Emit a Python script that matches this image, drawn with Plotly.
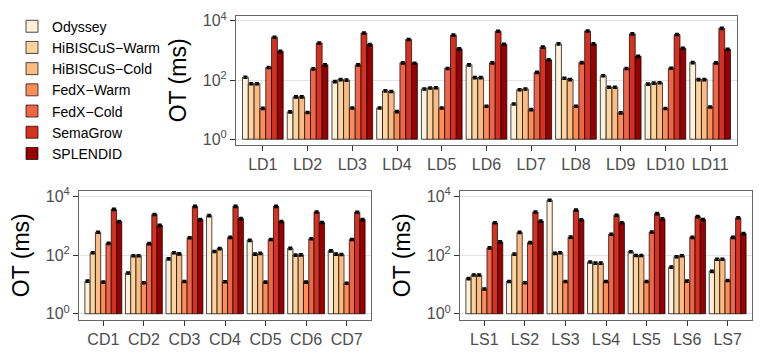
import plotly.graph_objects as go

# systems and their colours (OrRd, 7 classes)
systems = ["Odyssey", "HiBISCuS−Warm", "HiBISCuS−Cold", "FedX−Warm", "FedX−Cold", "SemaGrow", "SPLENDID"]
colors = ["#fef0d9", "#fdd49e", "#fdbb84", "#fc8d59", "#ef6548", "#d7301f", "#990000"]

# LargeRDFBench queries
ld_queries = ["LD1", "LD2", "LD3", "LD4", "LD5", "LD6", "LD7", "LD8", "LD9", "LD10", "LD11"]
ld_odyssey = [124, 8.4, 89, 11.4, 50, 325, 15.5, 1660, 140, 73, 390]
ld_hib_warm = [75, 27, 104, 43, 54, 121, 47, 115, 57, 79, 104]
ld_hib_cold = [75, 27, 100, 41, 55, 121, 50, 104, 57, 81, 104]
ld_fedx_warm = [11, 8, 11.4, 8.6, 11.4, 13, 10, 13, 7.8, 10.9, 12.3]
ld_fedx_cold = [265, 240, 325, 380, 246, 380, 182, 390, 246, 250, 380]
ld_semagrow = [2800, 1790, 3900, 2350, 3300, 4450, 1290, 4550, 3650, 3450, 5600]
ld_splendid = [930, 325, 1580, 370, 1130, 1620, 480, 1660, 630, 1190, 1100]

cd_queries = ["CD1", "CD2", "CD3", "CD4", "CD5", "CD6", "CD7"]
cd_odyssey = [12.9, 24.5, 74, 2200, 316, 170, 139]
cd_hib_warm = [120, 95, 120, 132, 108, 100, 108]
cd_hib_cold = [600, 95, 110, 166, 114, 102, 105]
cd_fedx_warm = [12, 11.4, 12.6, 12.3, 12, 12, 11]
cd_fedx_cold = [250, 245, 390, 400, 340, 360, 340]
cd_semagrow = [3600, 2400, 4550, 4550, 4550, 2930, 2870]
cd_splendid = [1390, 1030, 1620, 1750, 1390, 1290, 1620]

ls_queries = ["LS1", "LS2", "LS3", "LS4", "LS5", "LS6", "LS7"]
ls_odyssey = [15.8, 12.6, 7350, 58, 130, 39, 28]
ls_hib_warm = [21, 108, 114, 53, 97, 88, 72]
ls_hib_cold = [21, 590, 120, 53, 97, 95, 72]
ls_fedx_warm = [7, 11.4, 12.6, 12.6, 12.6, 12.9, 13.6]
ls_fedx_cold = [175, 265, 410, 510, 610, 400, 400]
ls_semagrow = [1260, 2930, 3400, 2280, 2570, 2040, 1860]
ls_splendid = [280, 1440, 1590, 1260, 1700, 1620, 540]

panels = [
    (ld_queries, [ld_odyssey, ld_hib_warm, ld_hib_cold, ld_fedx_warm, ld_fedx_cold, ld_semagrow, ld_splendid], "x", "y"),
    (cd_queries, [cd_odyssey, cd_hib_warm, cd_hib_cold, cd_fedx_warm, cd_fedx_cold, cd_semagrow, cd_splendid], "x2", "y2"),
    (ls_queries, [ls_odyssey, ls_hib_warm, ls_hib_cold, ls_fedx_warm, ls_fedx_cold, ls_semagrow, ls_splendid], "x3", "y3"),
]

fig = go.Figure()

for p, (queries, series, xa, ya) in enumerate(panels):
    for name, color, vals in zip(systems, colors, series):
        # bars start at 10^0 like in ggplot, so base = 1
        fig.add_trace(go.Bar(
            x=queries, y=[v - 1 for v in vals], base=1,
            name=name, legendgroup=name, showlegend=(p == 0),
            marker=dict(color=color, line=dict(color="black", width=0.7)),
            error_y=dict(type="percent", value=8, color="black", thickness=1.6, width=2),
            xaxis=xa, yaxis=ya,
        ))

FONT = "Liberation Sans, Arial, sans-serif"
tick_font = dict(family=FONT, size=16, color="#4d4d4d")
title_font = dict(family=FONT, size=23, color="black")

xcommon = dict(type="category", showline=True, mirror=True, linecolor="#666666", linewidth=1,
               ticks="outside", ticklen=5, tickcolor="#333333", tickfont=tick_font,
               showgrid=False)
ycommon = dict(type="log", showline=True, mirror=True, linecolor="#666666", linewidth=1,
               ticks="outside", ticklen=5, tickcolor="#333333", tickfont=tick_font,
               tickvals=[1, 100, 10000], ticktext=["10<sup>0</sup>", "10<sup>2</sup>", "10<sup>4</sup>"],
               showgrid=True, gridcolor="#e3e3e3", gridwidth=1, zeroline=False,
               title=dict(text="OT (ms)", font=title_font, standoff=9))

# the page body keeps an 8px margin, so the figure is 16px smaller than the window
W, H = 748, 341
OFF = 8


def xd(a, b):
    return [(a - OFF) / W, (b - OFF) / W]


def yd(top, bottom):
    return [1 - (bottom - OFF) / H, 1 - (top - OFF) / H]


fig.update_layout(
    width=W, height=H,
    margin=dict(l=0, r=0, t=0, b=0),
    paper_bgcolor="white", plot_bgcolor="white",
    barmode="group", bargap=0.09, bargroupgap=0,
    font=dict(family=FONT),
    xaxis=dict(xcommon, domain=xd(236, 737), range=[-0.6, 10.6], anchor="y"),
    yaxis=dict(ycommon, domain=yd(11, 143), range=[-0.19, 4.165], anchor="x"),
    xaxis2=dict(xcommon, domain=xd(79, 371), range=[-0.6, 6.6], anchor="y2"),
    yaxis2=dict(ycommon, domain=yd(190, 322), range=[-0.2, 4.19], anchor="x2"),
    xaxis3=dict(xcommon, domain=xd(460, 752), range=[-0.6, 6.6], anchor="y3"),
    yaxis3=dict(ycommon, domain=yd(190, 322), range=[-0.2, 4.19], anchor="x3"),
    legend=dict(x=(12 - OFF) / W, y=1 - (87 - OFF) / H, xanchor="left", yanchor="middle",
                font=dict(family=FONT, size=14, color="black"),
                bgcolor="rgba(0,0,0,0)", itemwidth=30, tracegroupgap=0),
    showlegend=True,
)

fig.write_html("out.html")
